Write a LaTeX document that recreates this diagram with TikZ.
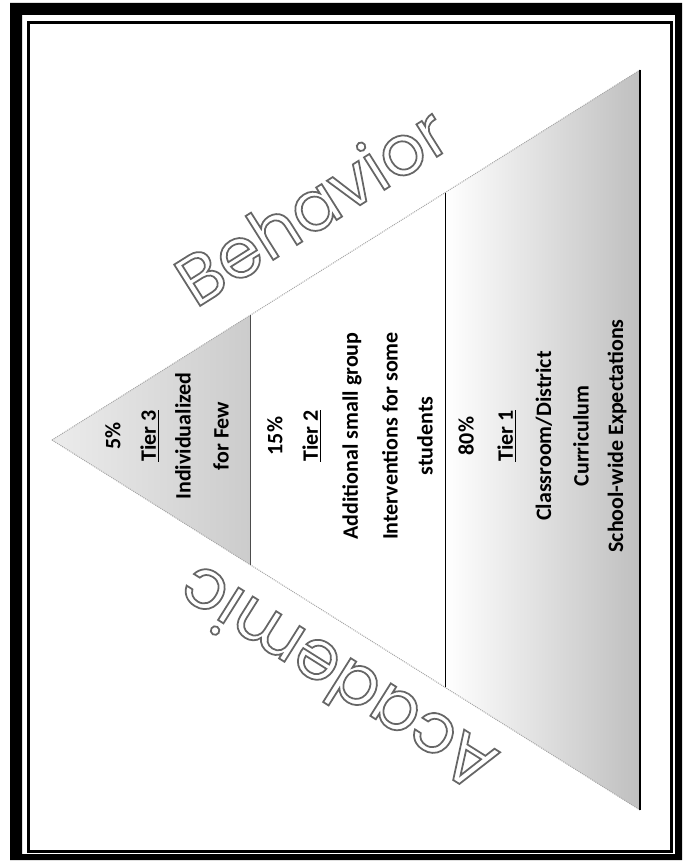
\documentclass[tikz,border=0pt]{standalone}
\usepackage{fontspec}
\setmainfont{Carlito}
\newfontfamily\geoout{Poppins}[FakeBold=2.5]
\usetikzlibrary{calc}
\newcommand\tierul[1]{\setbox0\hbox{#1}\rlap{\rule[-3.5pt]{\wd0}{1.6pt}}\box0}
\newcommand\hollow[1]{\special{pdf:code 1 g 0.4 G}#1}
\begin{document}
\begin{tikzpicture}[x=1pt,y=-1pt,
  tiertext/.style={rotate=90, font=\bfseries\fontsize{22}{26}\selectfont, inner sep=0pt},
  bigword/.style={font=\geoout\fontsize{70}{80}\selectfont, inner sep=0pt},
  slope/.style={draw=gray!70, line width=1pt, densely dotted},
]
\useasboundingbox (0,0) rectangle (688,867);
\fill[white] (0,0) rectangle (688,867);
% frame
\fill[black, even odd rule] (10,3) rectangle (682,860) (22,15) rectangle (675,854);
\draw[line width=2.5pt] (28.5,22.5) rectangle (671.5,851.5);

% pyramid
\coordinate (A) at (52,440);
\coordinate (T) at (640,70);
\coordinate (B) at (640,810);
\coordinate (t3t) at ($(A)!0.3367!(T)$);
\coordinate (t3b) at ($(A)!0.3367!(B)$);
\coordinate (t1t) at ($(A)!0.6684!(T)$);
\coordinate (t1b) at ($(A)!0.6684!(B)$);

\shade[left color=gray!15, right color=gray!40] (A) -- (t3t) -- (t3b) -- cycle;
\shade[left color=white, right color=gray!50] (t1t) -- (T) -- (B) -- (t1b) -- cycle;
\draw[slope] (A) -- (T);
\draw[slope] (A) -- (B);
\draw[gray!60!black, line width=0.8pt] (t3t) -- (t3b);
\draw[black, line width=1pt] (t1t) -- (t1b);
\draw[black, line width=2pt] (T) -- (B);

% tier 3
\node[tiertext] (p5) at (113,436) {5\%};
\node[tiertext] (n3) at (150,436) {\tierul{Tier 3}};
\node[tiertext] (ind) at (183,436) {Individualized};
\node[tiertext] (few) at (221,436) {for Few};
% tier 2
\node[tiertext] (p15) at (275,436) {15\%};
\node[tiertext] (n2) at (312,436) {\tierul{Tier 2}};
\node[tiertext] (add) at (352,436) {Additional small group};
\node[tiertext] (int) at (390,436) {Interventions for some};
\node[tiertext] (stu) at (425,436) {students};
% tier 1
\node[tiertext] (p80) at (466,436) {80\%};
\node[tiertext] (n1) at (507,436) {\tierul{Tier 1}};
\node[tiertext] (cls) at (544,436) {Classroom/District};
\node[tiertext] (cur) at (581,436) {Curriculum};
\node[tiertext] (sch) at (617,436) {School-wide Expectations};

% side words
\node[bigword, rotate=32.2] (beh) at (311,205) {\hollow{Behavior}};
\node[bigword, rotate=147.8] (aca) at (336,680) {\hollow{Academic}};
\end{tikzpicture}
\end{document}
